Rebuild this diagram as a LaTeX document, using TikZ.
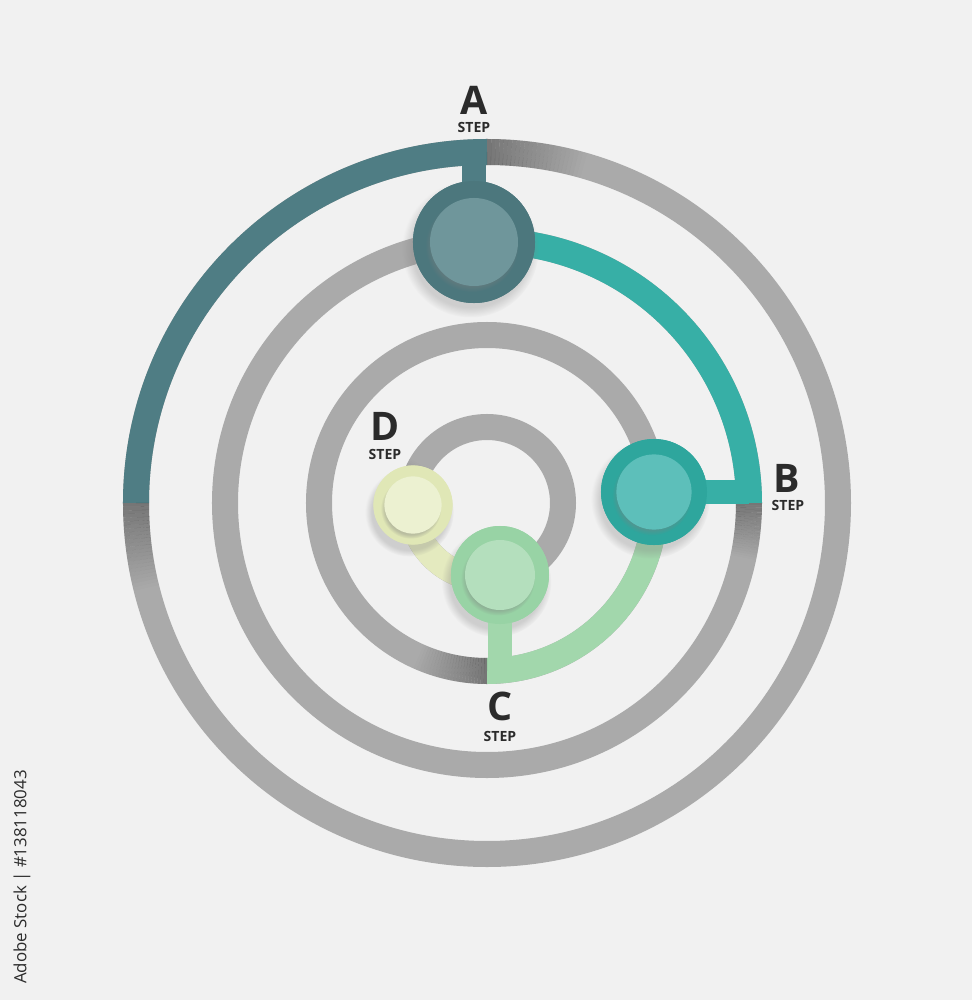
\documentclass[tikz,border=0pt]{standalone}
\usepackage{fontspec}
\setmainfont{Open Sans}
\usetikzlibrary{shadows}

\definecolor{paper}{HTML}{F1F1F1}
\definecolor{ringgray}{HTML}{AAAAAA}
\definecolor{labeltext}{HTML}{2B2B2B}
\definecolor{colA}{HTML}{4F7D84}
\definecolor{colAout}{HTML}{4C777D}
\definecolor{colAin}{HTML}{6F969B}
\definecolor{colB}{HTML}{37AFA6}
\definecolor{colBout}{HTML}{2EA69D}
\definecolor{colBin}{HTML}{5DBFBA}
\definecolor{colC}{HTML}{A2D7AC}
\definecolor{colCout}{HTML}{98D3A5}
\definecolor{colCin}{HTML}{B4DFBD}
\definecolor{colD}{HTML}{E4EABF}
\definecolor{colDout}{HTML}{E0E7B6}
\definecolor{colDin}{HTML}{ECF1D1}

\tikzset{
    ring/.style={line width=0.65cm},
    stem/.style={line width=0.62cm},
    outerdisc/.style={circle, inner sep=0pt, circular drop shadow={shadow xshift=-0.08cm, shadow yshift=-0.16cm, shadow scale=1.12, opacity=0.3}},
    innerdisc/.style={circle, inner sep=0pt, circular drop shadow={shadow xshift=-0.05cm, shadow yshift=-0.08cm, shadow scale=1.06, opacity=0.4}},
    letter/.style={font=\fontsize{28}{28}\selectfont\bfseries, text=labeltext, inner sep=0pt},
    steptext/.style={font=\fontsize{10}{10}\selectfont\bfseries, text=labeltext, inner sep=0pt}
}

% shadow on a gray ring where a coloured arc ends: radius, seam angle, sweep
\newcommand{\seamshade}[3]{%
    \foreach \i in {0,...,23}{
        \pgfmathsetmacro{\sa}{#2+#3*\i/24}
        \pgfmathsetmacro{\op}{0.3*(1-\i/24)}
        \draw[ring, black, opacity=\op] (\sa:#1) arc[start angle=\sa, delta angle=#3/24, radius=#1];
    }%
}

\begin{document}
\begin{tikzpicture}[x=0.025cm, y=0.025cm]
        % Background
        \fill[paper] (-487,-497) rectangle (485,503);
        \useasboundingbox (-487,-497) rectangle (485,503);

        % Draw the gray rings
        \foreach \r in {351,262,168,76}
            \draw[ring, ringgray] (0,0) circle[radius=\r];

        % Draw the coloured arcs
        \draw[ring, colA] (90:351) arc[start angle=90, end angle=180, radius=351];
        \draw[ring, colB] (0:262) arc[start angle=0, end angle=92.85, radius=262];
        \draw[ring, colC] (-90:168) arc[start angle=-90, end angle=3.8, radius=168];
        \draw[ring, colD] (180:76) arc[start angle=180, end angle=280.2, radius=76];

        % Shadows on the gray where the arcs end
        \seamshade{351}{90}{-16}
        \seamshade{351}{180}{14}
        \seamshade{262}{0}{-12}
        \seamshade{168}{270}{-24}
        \seamshade{76}{280.2}{35}
        \seamshade{76}{180}{-30}

        % Step discs
        \coordinate (ringtop) at (-13,351);
        \coordinate (ringright) at (262,11);
        \coordinate (ringbottom) at (13,-168);
        \node[outerdisc, fill=colAout, minimum size=3.05cm] (stepA) at (-13,261) {};
        \node[outerdisc, fill=colBout, minimum size=2.65cm] (stepB) at (167,11) {};
        \node[outerdisc, fill=colCout, minimum size=2.45cm] (stepC) at (13,-72) {};
        \node[outerdisc, fill=colDout, minimum size=1.98cm] (stepD) at (-74,-2) {};

        % Stems from the discs to the rings
        \draw[stem, colA] (stepA.center) -- (ringtop);
        \draw[stem, colB] (stepB.center) -- (ringright);
        \draw[stem, colC] (stepC.center) -- (ringbottom);

        % Redraw the disc faces over the stems
        \fill[colAout] (stepA) circle[radius=61];
        \fill[colBout] (stepB) circle[radius=53];
        \fill[colCout] (stepC) circle[radius=49];
        \fill[colDout] (stepD) circle[radius=39.5];

        % Inner discs
        \node[innerdisc, fill=colAin, minimum size=2.2cm] (innerA) at (stepA) {};
        \node[innerdisc, fill=colBin, minimum size=1.88cm] (innerB) at (stepB) {};
        \node[innerdisc, fill=colCin, minimum size=1.75cm] (innerC) at (stepC) {};
        \node[innerdisc, fill=colDin, minimum size=1.43cm] (innerD) at (stepD) {};

        % Labels
        \node[letter] (labA) at (-13,403) {A};
        \node[steptext] (subA) at (-13,376) {STEP};
        \node[letter] (labB) at (300,25) {B};
        \node[steptext] (subB) at (301,-2) {STEP};
        \node[letter] (labC) at (13,-203) {C};
        \node[steptext] (subC) at (13,-233) {STEP};
        \node[letter] (labD) at (-102,77) {D};
        \node[steptext] (subD) at (-102,49) {STEP};

        % Stock tag
        \node[rotate=90, font=\fontsize{12}{12}\selectfont, text=labeltext] (tag) at (-465,-374) {Adobe Stock | \#138118043};
\end{tikzpicture}
\end{document}
